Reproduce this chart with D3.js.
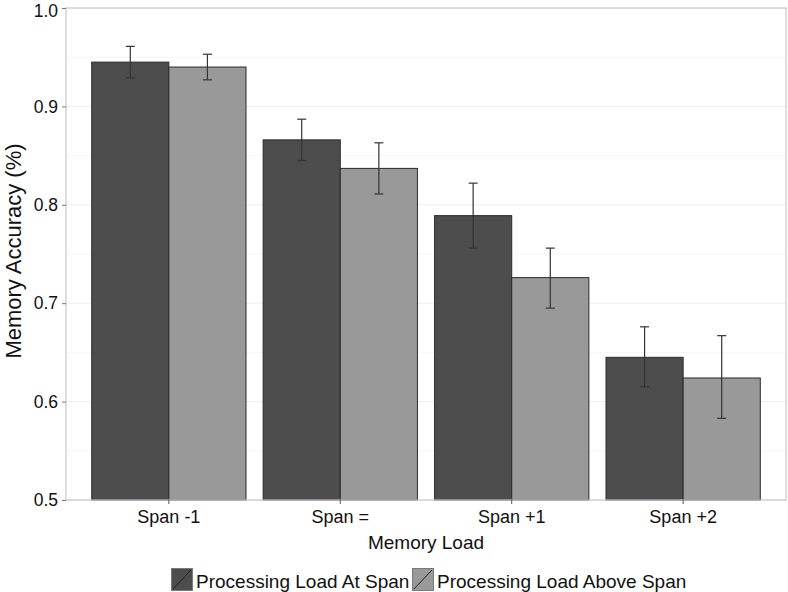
<!DOCTYPE html>
<html>
<head>
<meta charset="utf-8">
<script src="https://cdn.jsdelivr.net/npm/d3@7"></script>
<style>
  body { margin: 0; background: #fff; }
  text { font-family: "Liberation Sans", Arial, sans-serif; }
</style>
</head>
<body>
<svg id="chart" width="788" height="592"></svg>
<script>
const categories = ["Span -1", "Span =", "Span +1", "Span +2"];
const seriesNames = ["Processing Load At Span", "Processing Load Above Span"];
const atSpan = [0.945, 0.866, 0.789, 0.645];
const atSpanLow = [0.929, 0.845, 0.756, 0.615];
const atSpanHigh = [0.961, 0.887, 0.822, 0.676];
const aboveSpan = [0.940, 0.837, 0.726, 0.624];
const aboveSpanLow = [0.927, 0.811, 0.695, 0.583];
const aboveSpanHigh = [0.953, 0.863, 0.756, 0.667];
const yTicks = [0.5, 0.6, 0.7, 0.8, 0.9, 1.0];
const yMinor = [0.55, 0.65, 0.75, 0.85, 0.95];

const colors = ["#4d4d4d", "#999999"];

const svg = d3.select("#chart");
const L = 66, R = 786, T = 8, B = 500;

const x = d3.scaleBand().domain(categories).range([L, R]).paddingInner(0.1).paddingOuter(0.15);
const xs = d3.scaleBand().domain([0, 1]).range([0, x.bandwidth()]);
const y = d3.scaleLinear().domain([0.5, 1.0]).range([B, T]);

const rows = categories.map((c, i) => ([
  { cat: c, s: 0, v: atSpan[i], lo: atSpanLow[i], hi: atSpanHigh[i] },
  { cat: c, s: 1, v: aboveSpan[i], lo: aboveSpanLow[i], hi: aboveSpanHigh[i] }
])).flat();

// gridlines
svg.append("g").selectAll("line").data(yMinor).join("line")
  .attr("x1", L).attr("x2", R).attr("y1", d => y(d)).attr("y2", d => y(d))
  .attr("stroke", "#f6f6f6").attr("stroke-width", 1);
svg.append("g").selectAll("line").data(yTicks).join("line")
  .attr("x1", L).attr("x2", R).attr("y1", d => y(d)).attr("y2", d => y(d))
  .attr("stroke", "#eeeeee").attr("stroke-width", 1);

// bars
svg.append("g").selectAll("rect").data(rows).join("rect")
  .attr("x", d => x(d.cat) + xs(d.s))
  .attr("width", xs.bandwidth())
  .attr("y", d => y(d.v))
  .attr("height", d => y(0.5) - y(d.v))
  .attr("fill", d => colors[d.s])
  .attr("stroke", "#2b2b2b").attr("stroke-width", 1);

// error bars
const eb = svg.append("g").attr("stroke", "#333").attr("stroke-width", 1.2).attr("fill", "none");
rows.forEach(d => {
  const cx = x(d.cat) + xs(d.s) + xs.bandwidth() / 2;
  const w = 4.5;
  eb.append("line").attr("x1", cx).attr("x2", cx).attr("y1", y(d.hi)).attr("y2", y(d.lo));
  eb.append("line").attr("x1", cx - w).attr("x2", cx + w).attr("y1", y(d.hi)).attr("y2", y(d.hi));
  eb.append("line").attr("x1", cx - w).attr("x2", cx + w).attr("y1", y(d.lo)).attr("y2", y(d.lo));
});

// panel border
svg.append("rect").attr("x", L).attr("y", T).attr("width", R - L).attr("height", B - T)
  .attr("fill", "none").attr("stroke", "#c8c8c8").attr("stroke-width", 1.2);

// y axis
const yAxis = svg.append("g").attr("transform", `translate(${L},0)`)
  .call(d3.axisLeft(y).tickValues(yTicks).tickFormat(d3.format(".1f")).tickSize(4).tickPadding(4));
yAxis.select(".domain").remove();
yAxis.selectAll(".tick line").attr("stroke", "#777");
yAxis.selectAll(".tick text").attr("font-size", 17.5).attr("fill", "#111")
  .attr("font-family", "Liberation Sans, Arial, sans-serif");
// keep the top label inside the picture
yAxis.selectAll(".tick text").filter(d => d === 1.0).attr("dy", "0.46em");

// x axis
const xAxis = svg.append("g").attr("transform", `translate(0,${B})`)
  .call(d3.axisBottom(x).tickSize(4).tickPadding(5));
xAxis.select(".domain").remove();
xAxis.selectAll(".tick line").attr("stroke", "#555");
xAxis.selectAll(".tick text").attr("font-size", 18).attr("fill", "#111")
  .attr("font-family", "Liberation Sans, Arial, sans-serif")
  .attr("dy", null).attr("y", 23);

// axis titles
svg.append("text").attr("x", (L + R) / 2).attr("y", 549).attr("text-anchor", "middle")
  .attr("font-size", 19).attr("fill", "#111").text("Memory Load");
svg.append("text").attr("transform", `translate(21,251) rotate(-90)`)
  .attr("text-anchor", "middle").attr("font-size", 22).attr("fill", "#111")
  .text("Memory Accuracy (%)");

// legend
const lg = svg.append("g");
const keyX = [171, 412];
seriesNames.forEach((name, i) => {
  const g = lg.append("g").attr("transform", `translate(${keyX[i]},568)`);
  g.append("rect").attr("x", 0.5).attr("y", 0.5).attr("width", 21).attr("height", 22)
    .attr("fill", colors[i]).attr("stroke", "#7a7a7a").attr("stroke-width", 1);
  g.append("line").attr("x1", 2).attr("y1", 21).attr("x2", 20).attr("y2", 2)
    .attr("stroke", "#222").attr("stroke-width", 1);
  g.append("text").attr("x", 25).attr("y", 19.5).attr("font-size", 19).attr("fill", "#111").text(name);
});
</script>
</body>
</html>
